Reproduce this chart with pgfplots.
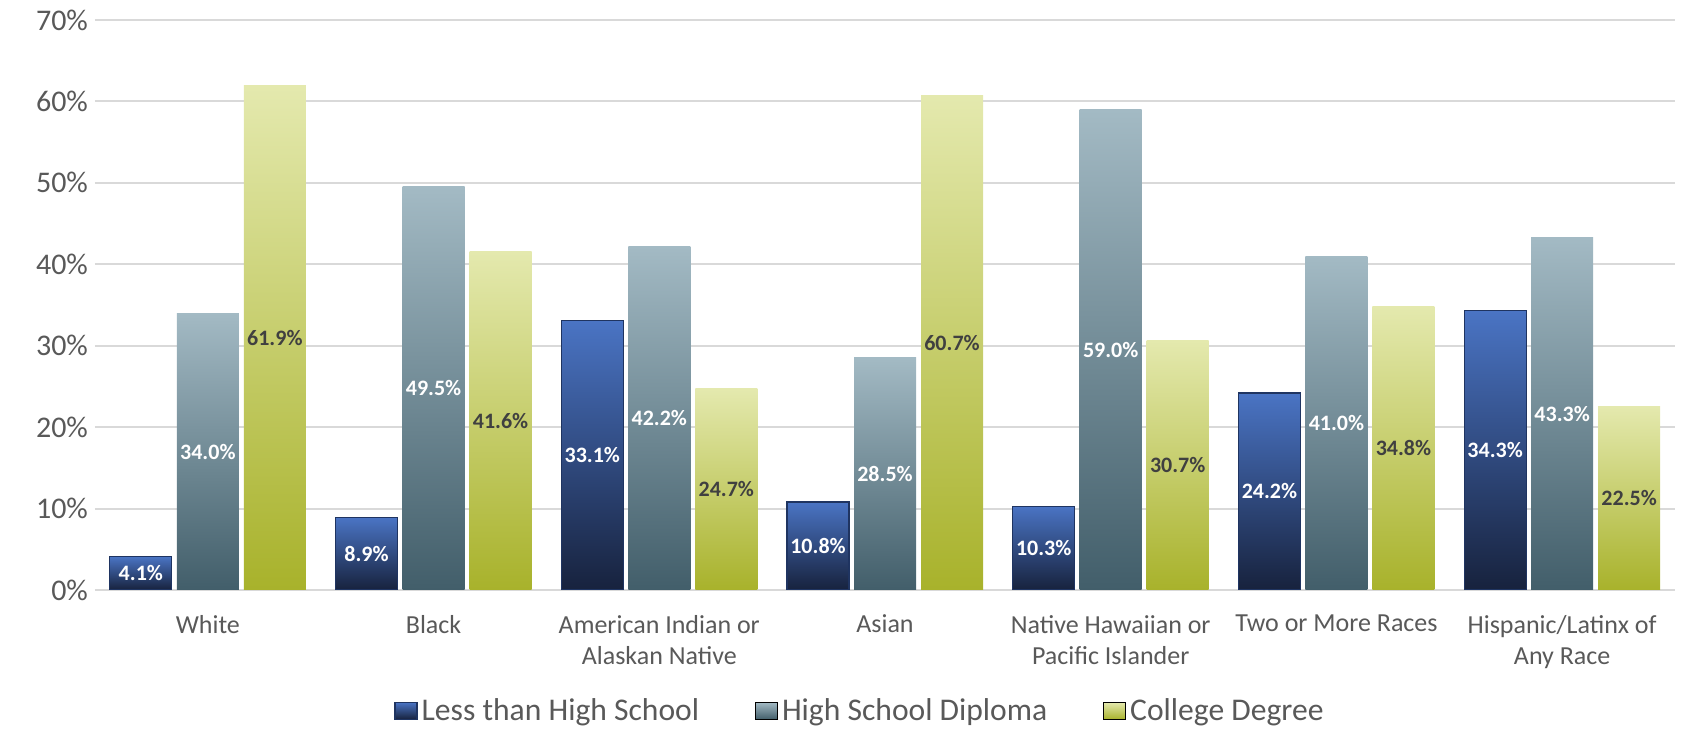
\documentclass[border=0pt]{standalone}
\usepackage{pgfplots}
\pgfplotsset{compat=1.18}
\usepackage{fontspec}
\setmainfont{Carlito}
\definecolor{lhsTop}{HTML}{4A74C4}
\definecolor{lhsBot}{HTML}{17223D}
\definecolor{lhsEdge}{HTML}{1F3461}
\definecolor{hsTop}{HTML}{A3BAC4}
\definecolor{hsBot}{HTML}{425E6A}
\definecolor{colTop}{HTML}{E4E9AE}
\definecolor{colBot}{HTML}{A8B22B}
\definecolor{txt}{HTML}{595959}
\definecolor{gridc}{HTML}{D9D9D9}
\definecolor{lbl}{HTML}{404040}
\pgfplotsset{
  c1/.style={draw=lhsEdge, line width=0.6pt, top color=lhsTop, bottom color=lhsBot},
  c2/.style={draw=none, top color=hsTop, bottom color=hsBot},
  c3/.style={draw=none, top color=colTop, bottom color=colBot},
  s1/.style={c1, forget plot, bar shift=-33.5pt, every node near coord/.append style={text=white}},
  s2/.style={c2, forget plot, bar shift=0pt, every node near coord/.append style={text=white}},
  s3/.style={c3, forget plot, bar shift=33.5pt, every node near coord/.append style={text=lbl}},
}
\begin{document}
\begin{tikzpicture}
\useasboundingbox (-47.5pt,-70.5pt) rectangle (799.5pt,295pt);
\begin{axis}[
  at={(0,0)}, anchor=south west,
  scale only axis, width=790pt, height=285pt,
  ybar, bar width=31pt,
  xmin=-0.5, xmax=6.5, ymin=0, ymax=70,
  xtick={0,...,6},
  xticklabels={White, Black, American Indian or\\Alaskan Native, Asian, Native Hawaiian or\\Pacific Islander, Two or More Races, Hispanic/Latinx of\\Any Race},
  xticklabel style={align=center, font=\fontsize{13}{15.8}\selectfont, text=txt, yshift=-9pt},
  ytick={0,10,...,70},
  yticklabel={\pgfmathprintnumber{\tick}\%},
  yticklabel style={font=\fontsize{15}{18}\selectfont, text=txt},
  ymajorgrids, grid style={gridc, line width=1pt},
  major tick length=0pt,
  axis line style={draw=none},
  /pgf/number format/assume math mode=true,
  legend style={at={(0.5,-0.212)}, xshift=-12pt, anchor=center, draw=none, legend columns=3,
    font=\fontsize{15.8}{19}\selectfont, text=txt,
    /tikz/every even column/.append style={column sep=26pt}},
  legend image code/.code={\draw[#1] (0pt,-4.25pt) rectangle (11pt,4.25pt);},
  nodes near coords={\pgfmathprintnumber[fixed,fixed zerofill,precision=1]{\pgfplotspointmeta}\%},
  visualization depends on={rawy/2 \as \halfy},
  every node near coord/.append style={anchor=center, font=\bfseries\fontsize{11}{13}\selectfont, shift={(axis direction cs:0,-\halfy)}},
]
\addlegendimage{c1}
\addlegendimage{c2}
\addlegendimage{c3}
% Less than High School
\addplot[s1] coordinates {(0,4.1)};
\addplot[s1] coordinates {(1,8.9)};
\addplot[s1] coordinates {(2,33.1)};
\addplot[s1] coordinates {(3,10.8)};
\addplot[s1] coordinates {(4,10.3)};
\addplot[s1] coordinates {(5,24.2)};
\addplot[s1] coordinates {(6,34.3)};
% High School Diploma
\addplot[s2] coordinates {(0,34.0)};
\addplot[s2] coordinates {(1,49.5)};
\addplot[s2] coordinates {(2,42.2)};
\addplot[s2] coordinates {(3,28.5)};
\addplot[s2] coordinates {(4,59.0)};
\addplot[s2] coordinates {(5,41.0)};
\addplot[s2] coordinates {(6,43.3)};
% College Degree
\addplot[s3] coordinates {(0,61.9)};
\addplot[s3] coordinates {(1,41.6)};
\addplot[s3] coordinates {(2,24.7)};
\addplot[s3] coordinates {(3,60.7)};
\addplot[s3] coordinates {(4,30.7)};
\addplot[s3] coordinates {(5,34.8)};
\addplot[s3] coordinates {(6,22.5)};
\legend{Less than High School, High School Diploma, College Degree}
\end{axis}
\end{tikzpicture}
\end{document}
